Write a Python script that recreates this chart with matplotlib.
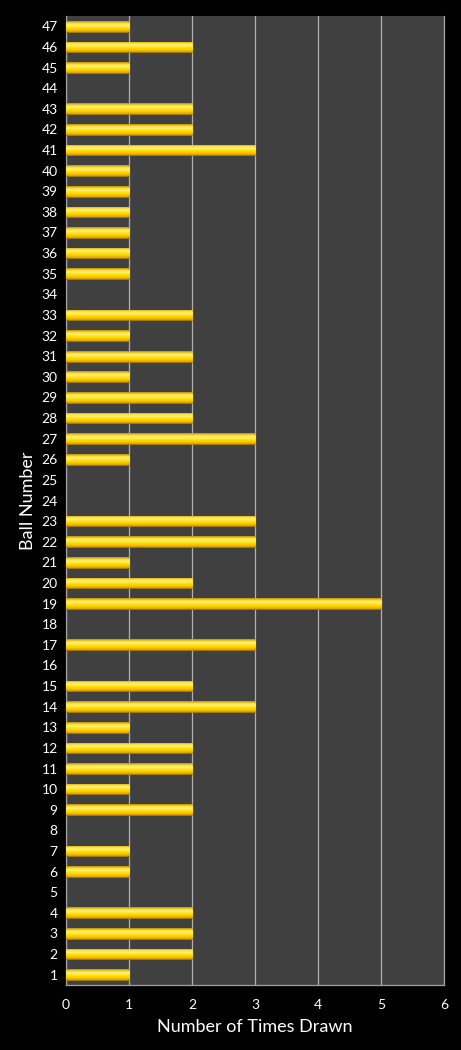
import numpy as np
import matplotlib
matplotlib.use("Agg")
import matplotlib.pyplot as plt
from matplotlib.colors import LinearSegmentedColormap

plt.rcParams['font.family'] = ['Lato', 'DejaVu Sans']

# ball numbers and how often each was drawn
balls = list(range(1, 48))
times_drawn = [1, 2, 2, 2, 0, 1, 1, 0, 2, 1,
               2, 2, 1, 3, 2, 0, 3, 0, 5, 2,
               1, 3, 3, 0, 0, 1, 3, 2, 2, 1,
               2, 1, 2, 0, 1, 1, 1, 1, 1, 1,
               3, 2, 2, 0, 1, 2, 1]
x_ticks = [0, 1, 2, 3, 4, 5, 6]

fig = plt.figure(figsize=(4.61, 10.5), dpi=100, facecolor='black')
ax = fig.add_axes([66 / 461, 65 / 1050, 378 / 461, 969 / 1050])
ax.set_facecolor('#404040')

bars = ax.barh(balls, times_drawn, height=0.52, color='#FFD200',
               edgecolor='#A07800', linewidth=0.6, zorder=3)

# vertical gradient inside every bar, clipped to the bar shape
grad_cmap = LinearSegmentedColormap.from_list(
    'gold', ['#D49A00', '#FFC800', '#FFE000', '#FFF27A', '#FFE240', '#B88A00'])
grad = np.linspace(0, 1, 64).reshape(-1, 1)
for b in bars:
    if b.get_width() <= 0:
        b.set_visible(False)
        continue
    x0, y0 = b.get_x(), b.get_y()
    im = ax.imshow(grad, cmap=grad_cmap, aspect='auto', origin='lower',
                   extent=[x0, x0 + b.get_width(), y0, y0 + b.get_height()],
                   zorder=3.5, interpolation='bicubic')
    im.set_clip_path(b)

ax.set_xlim(0, 6)
ax.set_ylim(0.5, 47.5)
ax.set_xticks(x_ticks)
ax.set_yticks(balls)
ax.grid(axis='x', color='#B0B0B0', linewidth=0.9, zorder=1)

ax.spines['top'].set_visible(False)
for side in ['left', 'bottom', 'right']:
    ax.spines[side].set_color('#A0A0A0')
    ax.spines[side].set_linewidth(0.9)

ax.tick_params(axis='both', colors='white', labelsize=10, length=0, pad=6)
ax.tick_params(axis='x', pad=10)
ax.set_xlabel('Number of Times Drawn', color='white', fontsize=13, labelpad=6)
ax.set_ylabel('Ball Number', color='white', fontsize=13, labelpad=4)

fig.savefig('out.png', dpi=100, facecolor='black')
